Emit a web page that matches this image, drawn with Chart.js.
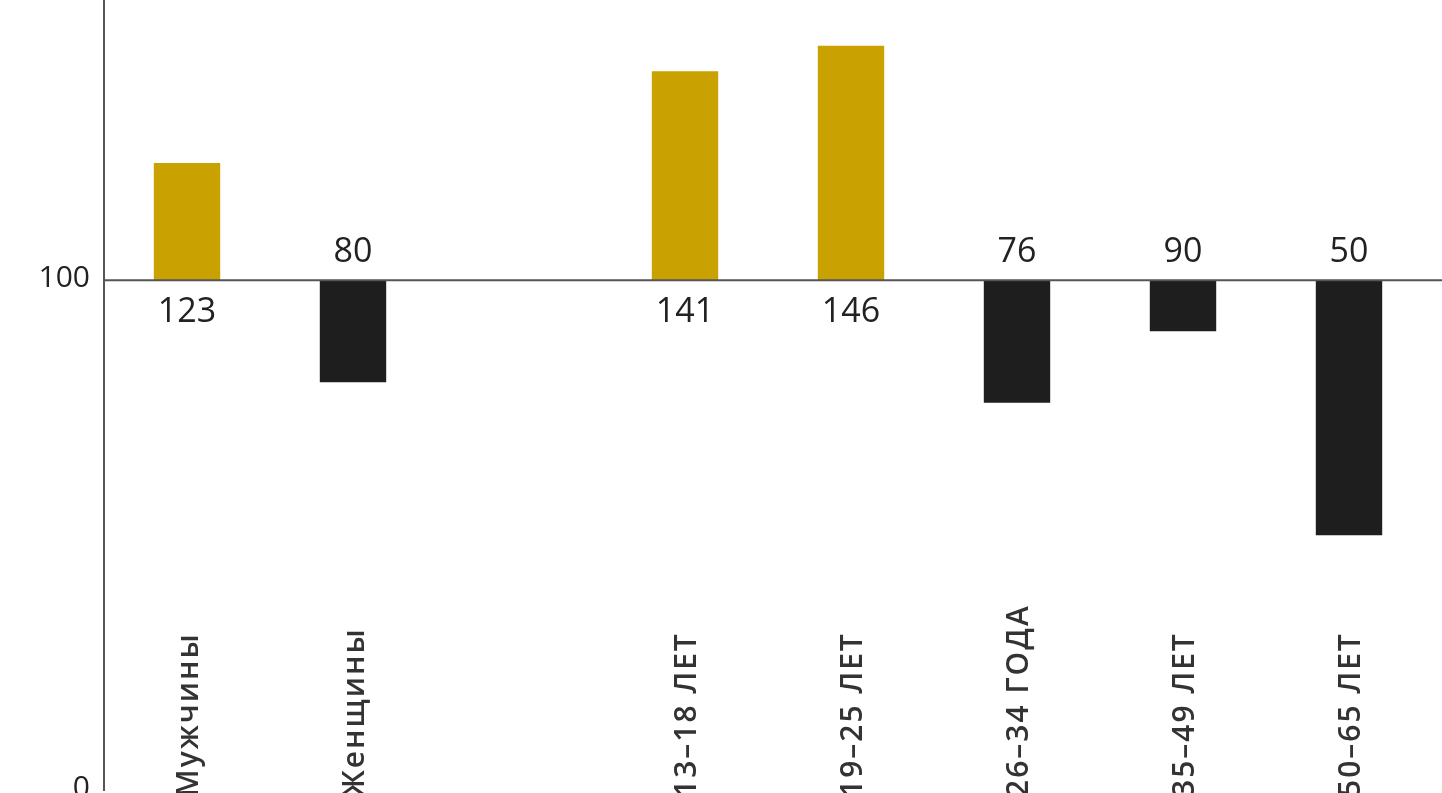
<!DOCTYPE html>
<html>
<head>
<meta charset="utf-8">
<script src="https://cdn.jsdelivr.net/npm/chart.js@4"></script>
<style>
  html, body { margin: 0; padding: 0; background: #fff; }
  #wrap { width: 1442px; height: 793px; position: relative; }
</style>
</head>
<body>
<div id="wrap"><canvas id="chart"></canvas></div>
<script>
// index values, base = 100 (empty slot between gender and age groups)
const categories = ['Мужчины', 'Женщины', '', '13–18 ЛЕТ', '19–25 ЛЕТ', '26–34 ГОДА', '35–49 ЛЕТ', '50–65 ЛЕТ'];
const values     = [123, 80, null, 141, 146, 76, 90, 50];
const BASE = 100;
const yTicks = [0, 100];

const GOLD  = '#C9A100';
const BLACK = '#1E1E1E';

// ── labels: y ticks, values beside the base line, rotated categories ──
const labelPlugin = {
  id: 'labels',
  afterDatasetsDraw(chart) {
    const { ctx, chartArea, scales: { x, y } } = chart;
    const yBase = y.getPixelForValue(BASE);

    ctx.save();
    // base line across the full width
    ctx.strokeStyle = '#555';
    ctx.lineWidth = 2;
    ctx.beginPath();
    ctx.moveTo(chartArea.left, yBase);
    ctx.lineTo(chart.width, yBase);
    ctx.stroke();

    // y tick labels
    ctx.fillStyle = '#222';
    ctx.font = '30px "Open Sans", sans-serif';
    ctx.textAlign = 'right';
    ctx.textBaseline = 'middle';
    yTicks.forEach(t => ctx.fillText(String(t), chartArea.left - 14, y.getPixelForValue(t) - 2));

    // value labels
    ctx.font = '34px "Open Sans", sans-serif';
    ctx.textAlign = 'center';
    values.forEach((v, i) => {
      if (v == null) return;
      const px = x.getPixelForValue(i);
      ctx.fillText(String(v), px, v > BASE ? yBase + 32 : yBase - 28);
    });

    // category labels, reading upward from the bottom edge
    ctx.font = '600 30px "Open Sans", sans-serif';
    ctx.letterSpacing = '2px';
    ctx.fillStyle = '#333';
    ctx.textAlign = 'left';
    categories.forEach((c, i) => {
      if (!c) return;
      const px = x.getPixelForValue(i);
      ctx.save();
      ctx.translate(px + 2, chart.height + 4);
      ctx.rotate(-Math.PI / 2);
      ctx.fillText(c, 0, 0);
      ctx.restore();
    });
    ctx.restore();
  }
};

new Chart(document.getElementById('chart'), {
  type: 'bar',
  data: {
    labels: categories,
    datasets: [{
      data: values.map(v => v == null ? null : [BASE, v]),
      backgroundColor: values.map(v => v > BASE ? GOLD : BLACK),
      borderWidth: 0,
      borderSkipped: false,
      barPercentage: 0.4,
      categoryPercentage: 1.0,
    }],
  },
  options: {
    responsive: true,
    maintainAspectRatio: false,
    animation: false,
    layout: { padding: { top: 0, right: 10, bottom: 3, left: 0 } },
    plugins: { legend: { display: false }, tooltip: { enabled: false } },
    scales: {
      x: { display: false },
      y: {
        min: 0,
        max: 155,
        afterFit: s => { s.width = 104; },
        grid: { display: false, drawTicks: false },
        border: { display: true, color: '#555', width: 2 },
        ticks: { display: false },
      },
    },
  },
  plugins: [labelPlugin],
});
</script>
</body>
</html>
